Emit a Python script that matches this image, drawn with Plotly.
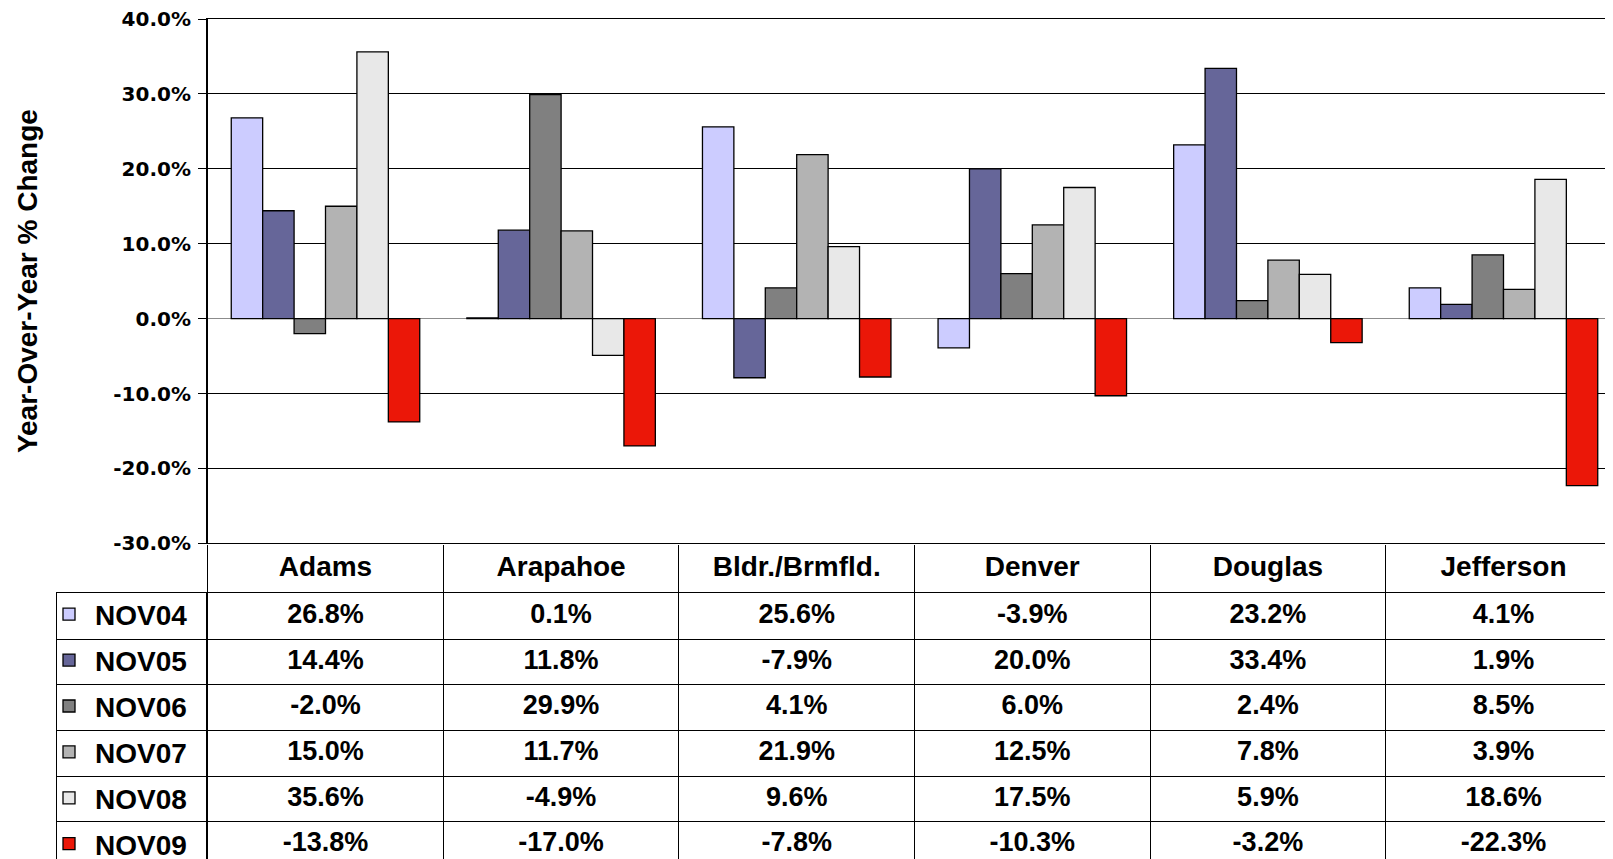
import plotly.graph_objects as go

# counties (x categories) and the yearly series
counties = ["Adams", "Arapahoe", "Bldr./Brmfld.", "Denver", "Douglas", "Jefferson"]
series = ["NOV04", "NOV05", "NOV06", "NOV07", "NOV08", "NOV09"]

nov04 = [26.8, 0.1, 25.6, -3.9, 23.2, 4.1]
nov05 = [14.4, 11.8, -7.9, 20.0, 33.4, 1.9]
nov06 = [-2.0, 29.9, 4.1, 6.0, 2.4, 8.5]
nov07 = [15.0, 11.7, 21.9, 12.5, 7.8, 3.9]
nov08 = [35.6, -4.9, 9.6, 17.5, 5.9, 18.6]
nov09 = [-13.8, -17.0, -7.8, -10.3, -3.2, -22.3]

y_ticks = [-30, -20, -10, 0, 10, 20, 30, 40]

values = [nov04, nov05, nov06, nov07, nov08, nov09]
colors = ["#CCCCFF", "#666699", "#808080", "#B3B3B3", "#E8E8E8", "#EB1708"]

# the page body has an 8px margin, so the figure is sized to end at the window edge
BODY = 8
W, H = 1613 - BODY, 859 - BODY
ML = 40
PW = W - ML

ARIAL = "Liberation Sans, Arial, sans-serif"
WIDE = "DejaVu Sans, Verdana, sans-serif"


def px_x(s):
    # screen px -> paper fraction
    return (s - BODY - ML) / PW


def px_y(s):
    return (H - (s - BODY)) / H


fig = go.Figure()

for name, vals, col in zip(series, values, colors):
    fig.add_trace(go.Bar(
        x=counties, y=vals, name=name, legendgroup=name,
        marker=dict(color=col, line=dict(color="black", width=1.3)),
        xaxis="x", yaxis="y",
    ))

# data table below the chart
tx, ty, tt = [], [], []
for name, vals in zip(series, values):
    for c, v in zip(counties, vals):
        tx.append(c)
        ty.append(name)
        tt.append(f"{v:.1f}%")

fig.add_trace(go.Scatter(
    x=tx, y=ty, text=tt, mode="text", textposition="middle center",
    textfont=dict(family=ARIAL, size=27, color="black", weight="bold"),
    showlegend=False, hoverinfo="skip", xaxis="x2", yaxis="y2",
))

# empty helper so the legend-column grid gets its row categories
fig.add_trace(go.Scatter(
    x=[None] * len(series), y=series, mode="markers",
    marker=dict(opacity=0), showlegend=False, hoverinfo="skip",
    xaxis="x3", yaxis="y3",
))

row_h = 45.7
tab_top = 593.3
n_rows_visible = (859 - tab_top) / row_h
row_range = [-0.5 + n_rows_visible, -0.5]
col_w = 235.6

fig.update_layout(
    width=W, height=H,
    margin=dict(l=ML, r=0, t=0, b=0, autoexpand=False),
    paper_bgcolor="white", plot_bgcolor="white",
    barmode="group", bargap=0.2, bargroupgap=0,
    showlegend=True,
    legend=dict(
        x=px_x(43), y=px_y(589.5), xanchor="left", yanchor="top",
        traceorder="grouped", tracegroupgap=6.5, itemwidth=42,
        font=dict(family=ARIAL, size=28, color="black", weight="bold"),
        bgcolor="rgba(0,0,0,0)", borderwidth=0,
    ),
    xaxis=dict(
        domain=[px_x(207.7), 1], anchor="y",
        range=[-0.5, -0.5 + (1613 - 207.7) / col_w],
        showticklabels=False, showgrid=False,
        ticks="outside", tickson="boundaries", ticklen=50,
        tickcolor="black", tickwidth=1.3,
        showline=True, mirror=True, linecolor="black", linewidth=1.4,
    ),
    yaxis=dict(
        domain=[px_y(543.3), px_y(19)], anchor="x",
        range=[-30, 40],
        tickvals=y_ticks, ticktext=[f"{v:.1f}%" for v in y_ticks],
        tickfont=dict(family=WIDE, size=20, color="black", weight="bold"),
        ticks="outside", ticklen=8, tickcolor="black", tickwidth=1.3,
        ticklabelstandoff=3, ticklabeloverflow="allow",
        showgrid=True, gridcolor="black", gridwidth=1.3,
        zeroline=True, zerolinecolor="#8c8c8c", zerolinewidth=1,
        showline=True, linecolor="black", linewidth=1.5,
        title=dict(text="Year-Over-Year % Change", standoff=67,
                   font=dict(family=ARIAL, size=28, color="black", weight="bold")),
    ),
    xaxis2=dict(
        domain=[px_x(207.7), 1], anchor="y2", matches="x", side="top",
        ticks="", tickson="boundaries", ticklabelstandoff=5,
        tickfont=dict(family=ARIAL, size=28, color="black", weight="bold"),
        showgrid=True, gridcolor="black", gridwidth=1.3,
        showline=True, linecolor="black", linewidth=1.3,
    ),
    yaxis2=dict(
        domain=[0, px_y(tab_top)], anchor="x2",
        type="category", categoryorder="array", categoryarray=series,
        range=row_range, tickson="boundaries", ticks="",
        showticklabels=False, showgrid=True, gridcolor="black", gridwidth=1.3,
        showline=True, linecolor="black", linewidth=1.5, zeroline=False,
    ),
    xaxis3=dict(
        domain=[px_x(56.7), px_x(207.7)], anchor="y3", side="top",
        range=[0, 1], showticklabels=False, showgrid=False, zeroline=False,
        showline=True, linecolor="black", linewidth=1.3, ticks="",
    ),
    yaxis3=dict(
        domain=[0, px_y(tab_top)], anchor="x3",
        type="category", categoryorder="array", categoryarray=series,
        range=row_range, tickson="boundaries", ticks="",
        showticklabels=False, showgrid=True, gridcolor="black", gridwidth=1.3,
        showline=True, linecolor="black", linewidth=1.3, zeroline=False,
    ),
)

fig.write_html("out.html")
